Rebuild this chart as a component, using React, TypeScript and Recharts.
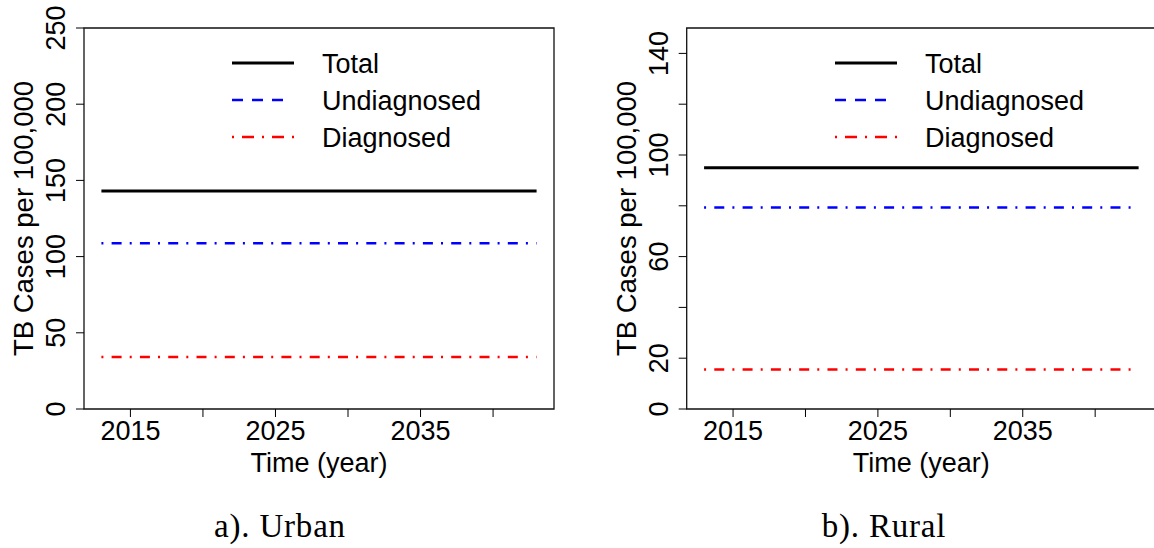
import { LineChart, Line, XAxis, YAxis, ReferenceArea, Legend } from 'recharts';

// Projection period (model runs 2013-2043, flat steady-state values)
const years = [2013, 2043];

const urbanTotal = [143.0, 143.0];
const urbanUndiagnosed = [108.7, 108.7];
const urbanDiagnosed = [34.2, 34.2];

const ruralTotal = [95.0, 95.0];
const ruralUndiagnosed = [79.3, 79.3];
const ruralDiagnosed = [15.6, 15.6];

const xTicks = [2015, 2020, 2025, 2030, 2035, 2040];
const xTickLabels = ['2015', '', '2025', '', '2035', ''];

const urbanTicks = [0, 50, 100, 150, 200, 250];
const urbanTickLabels = ['0', '50', '100', '150', '200', '250'];

const ruralTicks = [0, 20, 40, 60, 80, 100, 120, 140];
const ruralTickLabels = ['0', '20', '', '60', '', '100', '', '140'];

const seriesNames = ['Total', 'Undiagnosed', 'Diagnosed'];
const captions = ['a). Urban', 'b). Rural'];

const FONT = '"Liberation Sans", Arial, Helvetica, sans-serif';
const SERIF = '"Liberation Serif", "Times New Roman", serif';
const TICK_SIZE = 27;

// R-style axis padding: 4% on each side of the data range
const span = years[years.length - 1] - years[0];
const xDomain = [years[0] - 0.04 * span, years[years.length - 1] + 0.04 * span];

const DOT_DASH = '2 8.2 10 8.1';

const XTick = ({ x, y, payload }: any) => {
    const i = xTicks.indexOf(payload.value);
    const txt = i >= 0 ? xTickLabels[i] : '';
    if (!txt) return null;
    return (
        <text x={x} y={y + 21} textAnchor="middle" fontFamily={FONT} fontSize={TICK_SIZE} fill="#000">{txt}</text>
    );
};

const makeYTick = (ticks: number[], labels: string[]) => ({ x, y, payload }: any) => {
    const i = ticks.indexOf(payload.value);
    const txt = i >= 0 ? labels[i] : '';
    if (!txt) return null;
    const bx = x - 9;
    return (
        <text x={bx} y={y} transform={`rotate(-90 ${bx} ${y})`} textAnchor="middle"
            fontFamily={FONT} fontSize={TICK_SIZE} fill="#000">{txt}</text>
    );
};

const YTitle = ({ viewBox }: any) => {
    if (!viewBox) return null;
    const bx = viewBox.x + viewBox.width - 51;
    const cy = viewBox.y + viewBox.height / 2;
    return (
        <text x={bx} y={cy} transform={`rotate(-90 ${bx} ${cy})`} textAnchor="middle"
            fontFamily={FONT} fontSize={27.5} fill="#000">TB Cases per 100,000</text>
    );
};

const XTitle = ({ viewBox }: any) => {
    if (!viewBox) return null;
    return (
        <text x={viewBox.x + viewBox.width / 2} y={viewBox.y + 63} textAnchor="middle"
            fontFamily={FONT} fontSize={TICK_SIZE} fill="#000">Time (year)</text>
    );
};

const LegendBox = () => {
    const rows = [
        { name: seriesNames[0], color: '#000', dash: undefined, len: 62, w: 3 },
        { name: seriesNames[1], color: '#0000ff', dash: '11 9', len: 51, w: 2.5 },
        { name: seriesNames[2], color: '#ff0000', dash: '2 8 12 8', len: 62, w: 2.5 },
    ];
    return (
        <svg width={300} height={120} style={{ display: 'block' }}>
            {rows.map((r, i) => {
                const cy = 23 + i * 37;
                return (
                    <g key={r.name}>
                        <line x1={0} x2={r.len} y1={cy} y2={cy} stroke={r.color} strokeWidth={r.w} strokeDasharray={r.dash} />
                        <text x={90} y={cy + 9.5} fontFamily={FONT} fontSize={27} fill="#000">{r.name}</text>
                    </g>
                );
            })}
        </svg>
    );
};

type PanelProps = {
    left: number;
    width: number;
    plotLeft: number;
    plotRight: number;
    yMax: number;
    yTicks: number[];
    yTickLabels: string[];
    total: number[];
    undiagnosed: number[];
    diagnosed: number[];
};

function Panel({ left, width, plotLeft, plotRight, yMax, yTicks, yTickLabels, total, undiagnosed, diagnosed }: PanelProps) {
    const data = years.map((yr, i) => ({
        year: yr,
        total: total[i],
        undiagnosed: undiagnosed[i],
        diagnosed: diagnosed[i],
    }));
    const yAxisW = 60;
    const xAxisH = 60;
    const plotTop = 28;
    const plotBottom = 409;
    return (
        <div style={{ position: 'absolute', left, top: 0 }}>
            <LineChart width={width} height={548} data={data}
                margin={{ top: plotTop, right: width - plotRight, bottom: 548 - plotBottom - xAxisH, left: plotLeft - yAxisW }}>
                <XAxis dataKey="year" type="number" domain={xDomain} ticks={xTicks} interval={0}
                    allowDataOverflow axisLine={false} tickSize={8} stroke="#000"
                    tick={<XTick />} height={xAxisH} label={<XTitle />} />
                <YAxis type="number" domain={[0, yMax]} ticks={yTicks} interval={0}
                    allowDataOverflow axisLine={false} tickSize={8} stroke="#000"
                    tick={makeYTick(yTicks, yTickLabels)} width={yAxisW} label={<YTitle />} />
                <ReferenceArea x1={xDomain[0]} x2={xDomain[1]} y1={0} y2={yMax}
                    fill="none" stroke="#111" strokeWidth={1.3} ifOverflow="extendDomain" />
                <Legend layout="horizontal" verticalAlign="middle" align="center"
                    wrapperStyle={{ left: plotLeft + 148, top: 40, width: 300, height: 120 }}
                    content={() => <LegendBox />} />
                <Line type="linear" dataKey="total" name={seriesNames[0]} stroke="#000" strokeWidth={3}
                    dot={false} activeDot={false} isAnimationActive={false} />
                <Line type="linear" dataKey="undiagnosed" name={seriesNames[1]} stroke="#0000ff" strokeWidth={2.5}
                    strokeDasharray={DOT_DASH} dot={false} activeDot={false} isAnimationActive={false} />
                <Line type="linear" dataKey="diagnosed" name={seriesNames[2]} stroke="#ff0000" strokeWidth={2.5}
                    strokeDasharray={DOT_DASH} dot={false} activeDot={false} isAnimationActive={false} />
            </LineChart>
        </div>
    );
}

export default function App() {
    return (
        <div style={{ position: 'absolute', left: 0, top: 0, width: 1154, height: 548, overflow: 'hidden', background: '#fff' }}>
            <Panel left={0} width={577} plotLeft={84} plotRight={554} yMax={250}
                yTicks={urbanTicks} yTickLabels={urbanTickLabels}
                total={urbanTotal} undiagnosed={urbanUndiagnosed} diagnosed={urbanDiagnosed} />
            <Panel left={600} width={560} plotLeft={86.7} plotRight={556} yMax={150}
                yTicks={ruralTicks} yTickLabels={ruralTickLabels}
                total={ruralTotal} undiagnosed={ruralUndiagnosed} diagnosed={ruralDiagnosed} />
            <svg width={1154} height={548} style={{ position: 'absolute', left: 0, top: 0, pointerEvents: 'none' }}>
                <text x={280} y={537} textAnchor="middle" fontFamily={SERIF} fontSize={33} letterSpacing={0.8} fill="#000">{captions[0]}</text>
                <text x={884} y={537} textAnchor="middle" fontFamily={SERIF} fontSize={33} letterSpacing={0.8} fill="#000">{captions[1]}</text>
            </svg>
        </div>
    );
}
